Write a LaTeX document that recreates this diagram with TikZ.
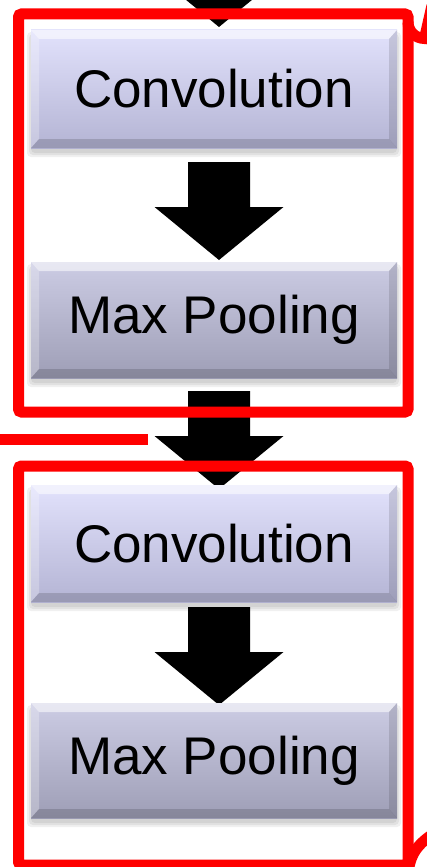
\documentclass[tikz,border=0pt]{standalone}
\usepackage{fontspec}
\setmainfont{Liberation Sans}
\definecolor{convtop}{RGB}{226,226,252}
\definecolor{convbot}{RGB}{180,180,212}
\definecolor{pooltop}{RGB}{204,204,228}
\definecolor{poolbot}{RGB}{158,158,182}
\definecolor{redline}{RGB}{255,0,0}
\tikzset{
  layerbox/.style={rectangle, minimum width=366pt, inner sep=0pt, draw=none,
    font=\fontsize{53}{60}\selectfont, text=black,
    path picture={
      \fill[white,opacity=.55] (path picture bounding box.north west) -- (path picture bounding box.north east)
        -- ([shift={(-8pt,-9pt)}]path picture bounding box.north east) -- ([shift={(8pt,-9pt)}]path picture bounding box.north west) -- cycle;
      \fill[white,opacity=.25] (path picture bounding box.north west) -- ([shift={(8pt,-9pt)}]path picture bounding box.north west)
        -- ([shift={(8pt,9pt)}]path picture bounding box.south west) -- (path picture bounding box.south west) -- cycle;
      \fill[black,opacity=.12] (path picture bounding box.north east) -- ([shift={(-8pt,-9pt)}]path picture bounding box.north east)
        -- ([shift={(-8pt,9pt)}]path picture bounding box.south east) -- (path picture bounding box.south east) -- cycle;
      \fill[black,opacity=.15] (path picture bounding box.south west) -- ([shift={(8pt,9pt)}]path picture bounding box.south west)
        -- ([shift={(-8pt,9pt)}]path picture bounding box.south east) -- (path picture bounding box.south east) -- cycle;
    }},
  convbox/.style={layerbox, top color=convtop, bottom color=convbot},
  poolbox/.style={layerbox, top color=pooltop, bottom color=poolbot},
  groupframe/.style={draw=redline, line width=11pt, rounded corners=3pt},
  redstroke/.style={draw=redline, line width=11pt},
  blockarrow/.pic={\fill[black] (-31,0) -- (31,0) -- (31,45) -- (64.5,45) -- (0,98) -- (-64.5,45) -- (-31,45) -- cycle;},
  boxshadow/.style={fill=black, opacity=.06, rounded corners=4pt}
}
\begin{document}
\begin{tikzpicture}[x=1pt,y=-1pt]
\useasboundingbox (0,0) rectangle (426,867);
\fill[white] (0,0) rectangle (426,867);
% block arrows
\pic at (219,-71) {blockarrow};
\pic at (219,162) {blockarrow};
\pic at (219,391) {blockarrow};
\pic at (219,607) {blockarrow};
% shadows
\foreach \t/\b in {30/148,262/378,485/602,703/818}{
  \foreach \e in {0,2,4}{
    \fill[boxshadow] (31-\e,\t+6-\e) rectangle (397+\e,\b+5+\e);
  }
}
% boxes
\node[convbox, minimum height=118pt] (conv1) at (214,89) {Convolution};
\node[poolbox, minimum height=116pt] (pool1) at (214,320) {Max Pooling};
\node[convbox, minimum height=117pt] (conv2) at (214,543.5) {Convolution};
\node[poolbox, minimum height=115pt] (pool2) at (214,760.5) {Max Pooling};
% red frames
\draw[groupframe] (18.5,14) rectangle (408,412);
\draw[groupframe] (18.5,466) rectangle (408,865);
\draw[redstroke] (0,439) -- (148,439);
\draw[redstroke] (408,22) arc[start angle=180, end angle=90, radius=16.5] -- (432,5.5);
\draw[redstroke] (408.5,870) .. controls (411,853) and (418,845) .. (430,836);
\end{tikzpicture}
\end{document}
